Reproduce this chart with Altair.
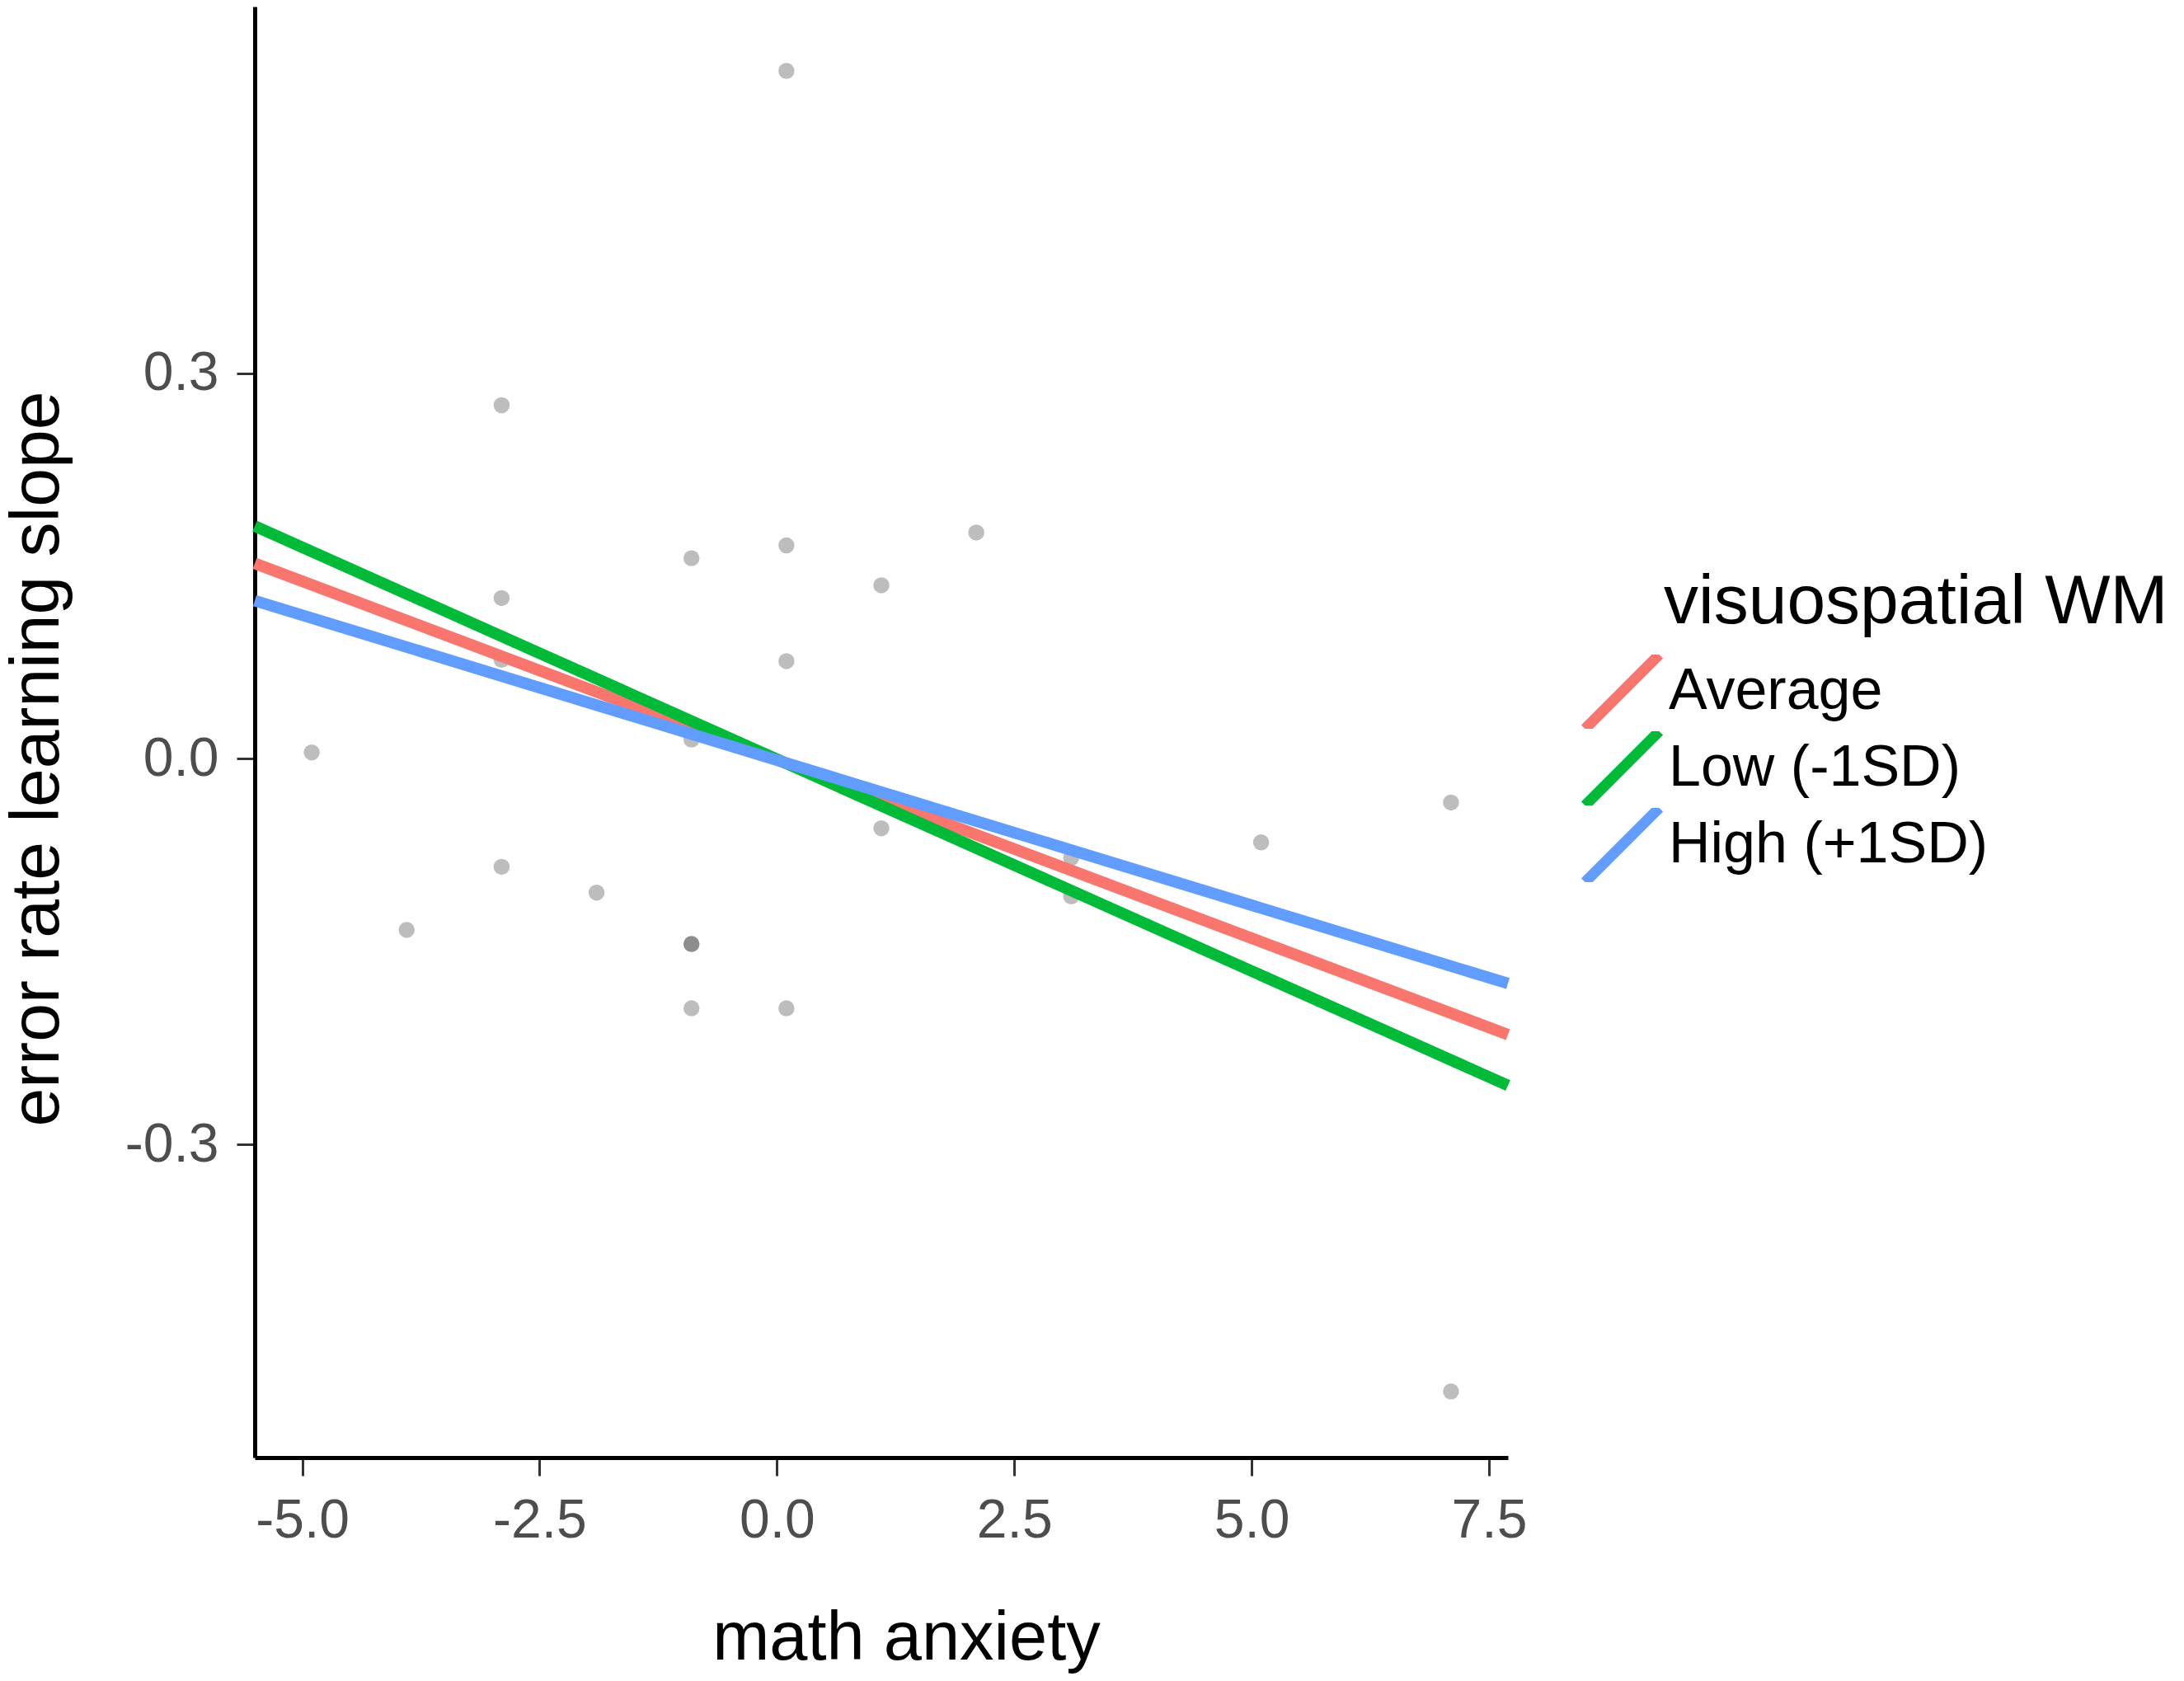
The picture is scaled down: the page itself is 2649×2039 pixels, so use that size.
import altair as alt
import pandas as pd

# scatter points (math anxiety, error rate learning slope)
pt_x = [0.1, -2.9, -2.9, -2.9, -4.9, -3.9, -2.9, -1.9, -0.9, -0.9, -0.9, -0.9, -0.9,
        0.1, 0.1, 0.1, 1.1, 1.1, 2.1, 3.1, 3.1, 5.1, 7.1, 7.1]
pt_y = [0.535, 0.275, 0.125, 0.077, 0.005, -0.133, -0.084, -0.104, 0.156, 0.015, -0.144, -0.144, -0.194,
        0.166, 0.076, -0.194, 0.135, -0.054, 0.176, -0.077, -0.107, -0.065, -0.034, -0.492]

# simple slopes lines (endpoints at the x-axis limits)
groups = ["Average", "Low (-1SD)", "High (+1SD)"]
line_x0 = [-5.5, -5.5, -5.5]
line_x1 = [7.7, 7.7, 7.7]
line_y0 = [0.152, 0.181, 0.123]
line_y1 = [-0.2145, -0.254, -0.1747]
colors = ["#F8766D", "#00BA38", "#619CFF"]

x_ticks = [-5.0, -2.5, 0.0, 2.5, 5.0, 7.5]
y_ticks = [-0.3, 0.0, 0.3]

pts = pd.DataFrame({"x": pt_x, "y": pt_y})
rows = []
for g, a, b, c, d in zip(groups, line_x0, line_x1, line_y0, line_y1):
    rows.append({"g": g, "x": a, "y": c, "o": 0})
    rows.append({"g": g, "x": b, "y": d, "o": 1})
lines = pd.DataFrame(rows)

FONT = "Liberation Sans"
lab_expr = "datum.value < 0 ? '-' + format(-datum.value, '.1f') : format(datum.value, '.1f')"

xscale = alt.Scale(domain=[-5.5, 7.7], nice=False, zero=False)
yscale = alt.Scale(domain=[-0.5434, 0.585], nice=False, zero=False)

xaxis = alt.Axis(values=x_ticks, labelExpr=lab_expr, title="math anxiety", grid=False,
                 labelFontSize=66, labelColor="#4D4D4D", labelFont=FONT, labelPadding=22,
                 titleFontSize=83, titleFont=FONT, titleFontWeight="normal", titleColor="black",
                 titleX=790, titleY=244, titleBaseline="alphabetic", titleAlign="center",
                 domainColor="black", domainWidth=5, tickColor="#333333", tickWidth=3, tickSize=22)
yaxis = alt.Axis(values=y_ticks, labelExpr=lab_expr, title="error rate learning slope", grid=False,
                 labelFontSize=66, labelColor="#4D4D4D", labelFont=FONT, labelPadding=22,
                 titleFontSize=84, titleFont=FONT, titleFontWeight="normal", titleColor="black",
                 titleX=-221, titleY=912, titleAngle=270, titleBaseline="bottom", titleAlign="center",
                 domainColor="black", domainWidth=5, tickColor="#333333", tickWidth=3, tickSize=22)

points = alt.Chart(pts).mark_circle(size=380, color="black", opacity=0.26).encode(
    x=alt.X("x:Q", scale=xscale, axis=xaxis),
    y=alt.Y("y:Q", scale=yscale, axis=yaxis),
)

line_layer = alt.Chart(lines).mark_line(strokeWidth=14, strokeCap="butt").encode(
    x=alt.X("x:Q", scale=xscale),
    y=alt.Y("y:Q", scale=yscale),
    order="o:Q",
    color=alt.Color("g:N", scale=alt.Scale(domain=groups, range=colors),
                    sort=groups,
                    legend=alt.Legend(title=None, orient="none", legendX=1607, legendY=786,
                                      padding=0, symbolType="M-1,1L1,-1", symbolSize=8100,
                                      symbolStrokeWidth=13, clipHeight=90, rowPadding=3,
                                      labelOffset=5, labelFontSize=70, labelFont=FONT,
                                      labelColor="black", labelLimit=600)),
)

chart = alt.layer(points, line_layer).properties(
    width=1520, height=1760,
    title=alt.TitleParams(text="visuospatial WM", anchor="start", frame="group", orient="top",
                          dx=1709, dy=832, offset=0, baseline="alphabetic",
                          fontSize=84, font=FONT, fontWeight="normal", color="black"),
    padding={"left": 301, "top": 0, "right": 812, "bottom": 262},
    autosize=alt.AutoSizeParams(type="none"),
).configure_view(strokeWidth=0)

chart.save("out.html", embed_options={"renderer": "svg", "actions": False})
